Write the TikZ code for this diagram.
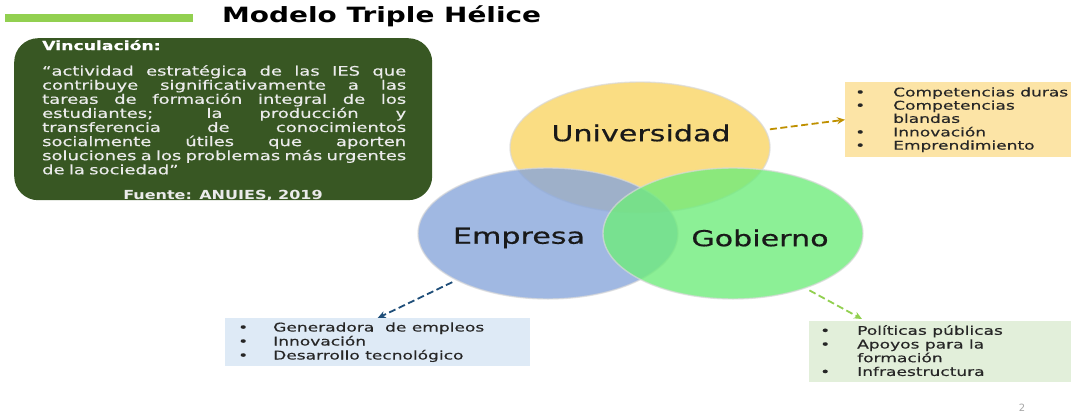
\documentclass[tikz,border=0pt]{standalone}
\usepackage{fontspec}
\setmainfont{DejaVu Sans}
\newfontfamily\titlefont{DejaVu Sans}[FakeStretch=1.33]
\newfontfamily\boxfont{DejaVu Sans}[FakeStretch=1.38,FakeBold=0.4]
\newfontfamily\srcfont{DejaVu Sans}[FakeStretch=1.28]
\newfontfamily\circfont{DejaVu Sans}[FakeStretch=1.37,FakeBold=0.5]
\newfontfamily\listfont{DejaVu Sans}[FakeStretch=1.42,FakeBold=0.4]
\usetikzlibrary{shapes.geometric,arrows.meta}

\definecolor{barverde}{RGB}{146,208,80}
\definecolor{vverde}{RGB}{56,87,35}
\definecolor{amarillo}{RGB}{249,212,100}
\definecolor{azul}{RGB}{136,166,219}
\definecolor{verde}{RGB}{111,236,124}
\definecolor{fondoamarillo}{RGB}{252,228,166}
\definecolor{fondoazul}{RGB}{222,234,246}
\definecolor{fondoverde}{RGB}{226,239,218}
\definecolor{oro}{RGB}{191,144,0}
\definecolor{azuloscuro}{RGB}{31,78,121}
\definecolor{verdeflecha}{RGB}{146,208,80}

\newcommand{\linea}[1]{\makebox[364pt][s]{\spaceskip=0.32em plus 1fil\relax #1}}

\begin{document}
\begin{tikzpicture}[x=1pt,y=-1pt,
  circ/.style={ellipse, draw=gray!30, draw opacity=0.7, line width=1.4pt, fill opacity=0.8,
    minimum width=260pt, minimum height=131pt},
  circtxt/.style={font=\circfont\fontsize{22}{25}\selectfont, text=black!90},
  listbox/.style={anchor=north west},
  listtxt/.style={anchor=north west, font=\listfont\fontsize{12}{13.2}\selectfont, text=black!85},
  flecha/.style={dash pattern=on 7pt off 3.5pt, line width=1.8pt, shorten <=4pt,
    -{Stealth[length=8pt,width=7pt]}}
]
\tikzstyle{every node}+=[inner sep=0pt]
\useasboundingbox (0,0) rectangle (1071,418);
\fill [barverde] (5,14) rectangle (193,22);
\node [anchor=base west, font=\titlefont\bfseries\fontsize{21}{24}\selectfont] (titulo) at (222,22) {Modelo Triple Hélice};

\node [anchor=north west, fill=vverde, rounded corners=24pt, minimum width=418pt, minimum height=162pt] (vbox) at (14,38) {};
\node [anchor=base west, text=white, font=\boxfont\bfseries\fontsize{12.5}{14}\selectfont] (vtit) at (42,50) {Vinculación:};
\node [anchor=north west, text width=364pt, align=left, text=black!8, font=\boxfont\fontsize{13}{14.1}\selectfont] (vcuerpo) at (42,65) {%
\linea{“actividad estratégica de las IES que}\\
\linea{contribuye significativamente a las}\\
\linea{tareas de formación integral de los}\\
\linea{estudiantes; la producción y}\\
\linea{transferencia de conocimientos}\\
\linea{socialmente útiles que aporten}\\
\linea{soluciones a los problemas más urgentes}\\
de la sociedad”};
\node [anchor=base, text=black!8, font=\srcfont\bfseries\fontsize{12.5}{14}\selectfont] (vfuente) at (223,199) {Fuente: ANUIES, 2019};

\node [circ, fill=amarillo] (uni) at (640,147.5) {};
\node [circ, fill=azul] (emp) at (548,233.5) {};
\node [circ, fill=verde] (gob) at (733,233.5) {};
\node [circtxt] (unitxt) at (641,133) {Universidad};
\node [circtxt] (emptxt) at (519,238) {Empresa};
\node [circtxt] (gobtxt) at (760,238) {Gobierno};

\node [listbox, fill=fondoamarillo, minimum width=226pt, minimum height=75pt] (ubox) at (845,82) {};
\node [listtxt] (ulista) at (855,87) {\begin{tabular}{@{}p{38pt}@{}l@{}}
\textbullet & Competencias duras\\
\textbullet & Competencias\\
 & blandas\\
\textbullet & Innovación\\
\textbullet & Emprendimiento
\end{tabular}};

\node [listbox, fill=fondoazul, minimum width=305pt, minimum height=48pt] (ebox) at (225,318) {};
\node [listtxt, font=\listfont\fontsize{12}{14}\selectfont] (elista) at (238,321.5) {\begin{tabular}{@{}p{35pt}@{}l@{}}
\textbullet & Generadora~ de empleos\\
\textbullet & Innovación\\
\textbullet & Desarrollo tecnológico
\end{tabular}};

\node [listbox, fill=fondoverde, minimum width=262pt, minimum height=61pt] (gbox) at (809,321) {};
\node [listtxt, font=\listfont\fontsize{12}{13.7}\selectfont] (glista) at (820,325) {\begin{tabular}{@{}p{37pt}@{}l@{}}
\textbullet & Políticas públicas\\
\textbullet & Apoyos para la\\
 & formación\\
\textbullet & Infraestructura
\end{tabular}};

\coordinate (gpunta) at (862,319);
\draw [flecha, draw=oro] (uni.8) -- (ubox.west);
\draw [flecha, draw=azuloscuro] (emp.207) -- (ebox.north);
\draw [flecha, draw=verdeflecha] (gob.323) -- (gpunta);

\node [text=gray!70, font=\fontsize{10}{11}\selectfont] (pagina) at (1022,408) {2};
\end{tikzpicture}
\end{document}
